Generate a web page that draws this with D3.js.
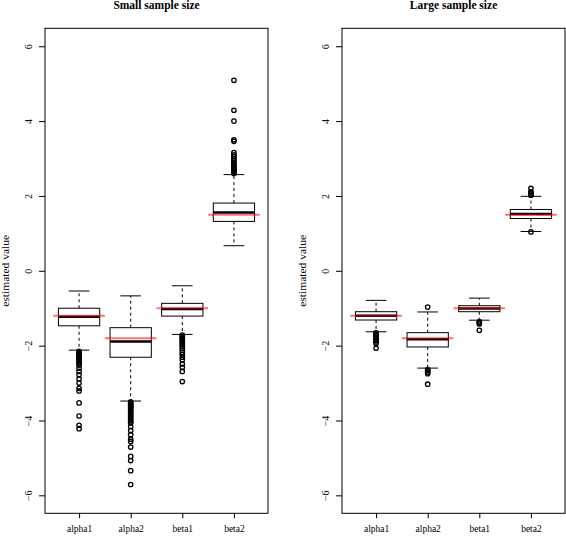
<!DOCTYPE html>
<html>
<head>
<meta charset="utf-8">
<script src="https://cdn.jsdelivr.net/npm/d3@7"></script>
<style>
  html, body { margin: 0; padding: 0; background: #fff; }
  svg { display: block; }
  text { font-family: "Liberation Serif", "DejaVu Serif", serif; fill: #000; }
</style>
</head>
<body>
<svg id="chart" width="566" height="537"></svg>
<script>
// ---------- data ----------
const categories = ["alpha1", "alpha2", "beta1", "beta2"];
const trueValues = [-1.2, -1.8, -1, 1.5];
const yTicks = [-6, -4, -2, 0, 2, 4, 6];
const panelTitles = ["Small sample size", "Large sample size"];
const yLabel = "estimated value";

// five-number summaries: [lower whisker, Q1, median, Q3, upper whisker]
const smallStats = [
  [-2.12, -1.47, -1.23, -1.00, -0.54],
  [-3.48, -2.31, -1.89, -1.52, -0.67],
  [-1.70, -1.21, -1.02, -0.87, -0.40],
  [0.67, 1.32, 1.56, 1.81, 2.57]
];
const smallOutliers = [
  [-2.15, -2.18, -2.21, -2.24, -2.27, -2.30, -2.33, -2.36, -2.40, -2.44, -2.48, -2.52, -2.60, -2.69, -2.78, -2.89, -3.00, -3.14, -3.21, -3.53, -3.88, -4.13, -4.22],
  [-3.50, -3.53, -3.56, -3.59, -3.62, -3.65, -3.68, -3.72, -3.76, -3.80, -3.84, -3.88, -3.92, -3.96, -4.00, -4.04, -4.07, -4.16, -4.27, -4.38, -4.50, -4.56, -4.71, -4.96, -5.07, -5.34, -5.71],
  [-1.72, -1.75, -1.78, -1.81, -1.85, -1.89, -1.93, -1.97, -2.02, -2.07, -2.12, -2.18, -2.24, -2.31, -2.38, -2.49, -2.58, -2.69, -2.96],
  [2.60, 2.63, 2.66, 2.69, 2.72, 2.75, 2.78, 2.82, 2.86, 2.90, 2.95, 3.00, 3.05, 3.10, 3.16, 3.46, 3.50, 4.00, 4.29, 5.09]
];
const largeStats = [
  [-1.63, -1.315, -1.20, -1.093, -0.79],
  [-2.60, -2.035, -1.83, -1.653, -1.10],
  [-1.32, -1.093, -1.01, -0.933, -0.73],
  [1.05, 1.397, 1.52, 1.637, 1.99]
];
const largeOutliers = [
  [-1.66, -1.70, -1.74, -1.78, -1.82, -1.86, -1.90, -1.94, -2.07],
  [-0.97, -2.64, -2.67, -2.71, -2.75, -3.03],
  [-1.36, -1.39, -1.42, -1.59],
  [1.04, 2.02, 2.05, 2.08, 2.11, 2.20]
];

// ---------- layout ----------
const svg = d3.select("#chart");
const panels = [
  { left: 45, right: 268, title: panelTitles[0], stats: smallStats, outliers: smallOutliers },
  { left: 342, right: 565, title: panelTitles[1], stats: largeStats, outliers: largeOutliers }
];
const plotTop = 28.3, plotBottom = 513.3;

panels.forEach(p => {
  const g = svg.append("g");
  const x = d3.scaleLinear().domain([0.34, 4.66]).range([p.left, p.right]);
  const y = d3.scaleLinear().domain([-6.48, 6.48]).range([plotBottom, plotTop]);
  const unit = x(1) - x(0);
  const boxW = 0.8 * unit;
  const stapleW = 0.4 * unit;

  // title
  g.append("text")
    .attr("x", (p.left + p.right) / 2).attr("y", 9)
    .attr("text-anchor", "middle")
    .attr("font-size", "11.5px").attr("font-weight", "bold")
    .text(p.title);

  // y label
  g.append("text")
    .attr("transform", `translate(${p.left - 36},${(plotTop + plotBottom) / 2}) rotate(-90)`)
    .attr("text-anchor", "middle")
    .attr("font-size", "10px")
    .attr("textLength", 72).attr("lengthAdjust", "spacingAndGlyphs")
    .text(yLabel);

  // y axis
  const yAxis = d3.axisLeft(y).tickValues(yTicks).tickSize(6).tickPadding(3)
    .tickFormat(d => d < 0 ? "\u2212" + Math.abs(d) : String(d));
  const ya = g.append("g").attr("transform", `translate(${p.left},0)`).call(yAxis);
  ya.select(".domain").remove();
  ya.selectAll(".tick line").attr("stroke", "#000");
  ya.selectAll(".tick text")
    .attr("font-family", "Liberation Serif, serif")
    .attr("font-size", "10px")
    .attr("x", null).attr("dy", null)
    .attr("text-anchor", "middle")
    .attr("transform", "translate(-13,0) rotate(-90)");

  // x axis
  const xAxis = d3.axisBottom(x).tickValues([1, 2, 3, 4]).tickSize(5).tickPadding(7)
    .tickFormat((d, i) => categories[i]);
  const xa = g.append("g").attr("transform", `translate(0,${plotBottom})`).call(xAxis);
  xa.select(".domain").remove();
  xa.selectAll(".tick line").attr("stroke", "#000");
  xa.selectAll(".tick text")
    .attr("font-family", "Liberation Serif, serif")
    .attr("font-size", "9.5px");

  // plot frame
  g.append("rect")
    .attr("x", p.left).attr("y", plotTop)
    .attr("width", p.right - p.left).attr("height", plotBottom - plotTop)
    .attr("fill", "none").attr("stroke", "#000").attr("stroke-width", 1);

  // boxes
  p.stats.forEach((s, i) => {
    const cx = x(i + 1);
    const [lo, q1, med, q3, hi] = s;
    const bg = g.append("g");
    bg.append("line").attr("x1", cx).attr("x2", cx).attr("y1", y(q3)).attr("y2", y(hi))
      .attr("stroke", "#000").attr("stroke-dasharray", "3,3");
    bg.append("line").attr("x1", cx).attr("x2", cx).attr("y1", y(q1)).attr("y2", y(lo))
      .attr("stroke", "#000").attr("stroke-dasharray", "3,3");
    bg.append("line").attr("x1", cx - stapleW / 2).attr("x2", cx + stapleW / 2)
      .attr("y1", y(hi)).attr("y2", y(hi)).attr("stroke", "#000");
    bg.append("line").attr("x1", cx - stapleW / 2).attr("x2", cx + stapleW / 2)
      .attr("y1", y(lo)).attr("y2", y(lo)).attr("stroke", "#000");
    bg.append("rect").attr("x", cx - boxW / 2).attr("y", y(q3))
      .attr("width", boxW).attr("height", y(q1) - y(q3))
      .attr("fill", "#fff").attr("stroke", "#000");
    bg.append("line").attr("x1", cx - boxW / 2).attr("x2", cx + boxW / 2)
      .attr("y1", y(med)).attr("y2", y(med)).attr("stroke", "#000").attr("stroke-width", 2.5);
    bg.selectAll("circle").data(p.outliers[i]).join("circle")
      .attr("cx", cx).attr("cy", d => y(d)).attr("r", 2.2)
      .attr("fill", "none").attr("stroke", "#000").attr("stroke-width", 1.3);
    bg.append("line").attr("x1", x(i + 0.5)).attr("x2", x(i + 1.5))
      .attr("y1", y(trueValues[i])).attr("y2", y(trueValues[i]))
      .attr("stroke", "red").attr("stroke-opacity", 0.55).attr("stroke-width", 2);
  });
});
</script>
</body>
</html>
